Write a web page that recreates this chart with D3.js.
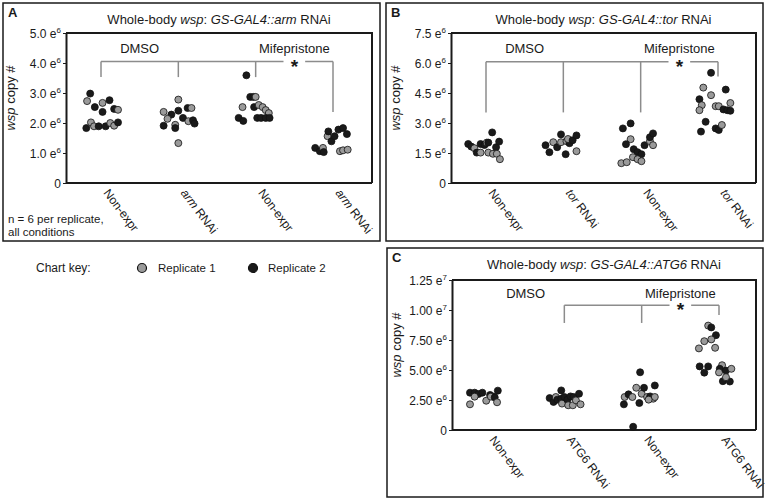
<!DOCTYPE html>
<html>
<head>
<meta charset="utf-8">
<script src="https://cdn.jsdelivr.net/npm/d3@7"></script>
<style>
body { margin: 0; background: #fff; }
svg { font-family: "Liberation Sans", Arial, Helvetica, sans-serif; }
</style>
</head>
<body>
<div id="chart"></div>
<script>
// categories ("_x_" = italic)
var catsA = ["Non-expr", "_arm_ RNAi", "Non-expr", "_arm_ RNAi"];
var catsB = ["Non-expr", "_tor_ RNAi", "Non-expr", "_tor_ RNAi"];
var catsC = ["Non-expr", "ATG6 RNAi", "Non-expr", "ATG6 RNAi"];
var groups = ["DMSO", "Mifepristone"];

// y ticks (values in e6), labels "mantissa e^exp"
var ticksA = [0, 1, 2, 3, 4, 5];
var tickTextA = ["0", "1.0 e^6", "2.0 e^6", "3.0 e^6", "4.0 e^6", "5.0 e^6"];
var ticksB = [0, 1.5, 3, 4.5, 6, 7.5];
var tickTextB = ["0", "1.5 e^6", "3.0 e^6", "4.5 e^6", "6.0 e^6", "7.5 e^6"];
var ticksC = [0, 2.5, 5, 7.5, 10, 12.5];
var tickTextC = ["0", "2.50 e^6", "5.00 e^6", "7.50 e^6", "1.00 e^7", "1.25 e^7"];

// points: [category, replicate, jitter (fraction of step), wsp copies (e6)]
var pointsA = [
  [0,2,-0.14,2.98],[0,1,-0.18,2.73],[0,2,-0.08,2.53],[0,1,0.02,2.67],[0,2,0.11,2.76],[0,2,0.02,2.37],
  [0,2,0.17,2.47],[0,1,0.22,2.44],[0,2,-0.19,1.83],[0,1,-0.13,2.02],[0,1,-0.09,1.89],[0,2,-0.03,1.89],
  [0,2,0.06,1.89],[0,1,0.12,2.00],[0,1,0.17,1.91],[0,2,0.22,2.02],
  [1,1,0.00,2.78],[1,1,-0.19,2.37],[1,2,-0.09,2.28],[1,2,0.00,2.41],[1,1,-0.14,2.14],[1,2,-0.19,1.91],
  [1,1,-0.04,1.94],[1,2,-0.04,1.83],[1,2,0.06,2.17],[1,2,0.12,2.50],[1,1,0.17,2.50],[1,1,0.13,2.06],
  [1,2,0.19,2.09],[1,2,0.21,1.98],[1,1,0.00,1.33],
  [2,2,-0.12,3.59],[2,2,-0.07,2.87],[2,2,-0.03,2.87],[2,1,0.00,2.87],[2,1,-0.17,2.53],[2,2,-0.02,2.53],
  [2,1,0.04,2.60],[2,1,0.09,2.53],[2,1,0.13,2.43],[2,1,0.17,2.33],[2,2,-0.22,2.17],[2,2,-0.16,2.07],
  [2,2,0.02,2.17],[2,2,0.07,2.17],[2,2,0.13,2.17],[2,2,0.18,2.17],
  [3,2,-0.23,1.17],[3,2,-0.17,1.06],[3,1,-0.13,1.17],[3,2,-0.12,1.03],[3,1,-0.07,1.56],[3,2,-0.06,1.72],
  [3,2,-0.02,1.39],[3,2,0.02,1.56],[3,2,0.07,1.78],[3,2,0.13,1.83],[3,2,0.18,1.63],[3,1,0.09,1.06],
  [3,1,0.13,1.09],[3,1,0.19,1.11]
];
var pointsB = [
  [0,2,-0.23,1.95],[0,2,-0.19,1.82],[0,1,-0.15,1.74],[0,2,-0.12,1.52],[0,1,-0.07,1.52],[0,2,-0.07,1.95],
  [0,2,-0.02,1.90],[0,1,0.01,2.02],[0,2,0.03,2.02],[0,2,0.08,2.53],[0,1,0.03,1.52],[0,1,0.09,1.46],
  [0,2,0.13,1.79],[0,2,0.17,2.07],[0,1,0.14,1.46],[0,1,0.18,1.19],
  [1,2,-0.23,1.89],[1,2,-0.18,1.54],[1,1,-0.13,2.04],[1,2,-0.08,1.79],[1,2,-0.03,2.43],[1,1,-0.03,2.04],
  [1,1,0.04,2.09],[1,2,0.08,1.99],[1,1,0.06,2.20],[1,2,0.12,2.14],[1,2,0.17,2.38],[1,2,0.03,1.44],
  [1,1,0.17,1.59],
  [2,2,-0.23,2.73],[2,2,-0.13,2.98],[2,1,-0.13,2.19],[2,2,-0.19,1.94],[2,2,-0.09,1.69],[2,2,-0.04,1.54],
  [2,2,0.01,1.44],[2,1,-0.10,1.29],[2,1,-0.04,1.19],[2,1,0.01,1.09],[2,1,-0.25,0.99],[2,1,-0.18,1.04],
  [2,2,0.05,1.89],[2,1,0.12,2.09],[2,2,0.12,2.29],[2,2,0.16,2.48],[2,1,0.16,1.89],
  [3,2,-0.09,5.51],[3,1,-0.19,4.77],[3,1,-0.09,4.39],[3,2,-0.24,4.19],[3,1,-0.21,3.89],[3,1,-0.24,3.64],
  [3,1,-0.03,3.84],[3,1,0.01,3.84],[3,2,0.10,4.67],[3,2,0.07,3.68],[3,2,0.12,3.64],[3,1,0.16,4.00],
  [3,2,0.16,3.61],[3,2,-0.16,3.06],[3,2,-0.22,2.57],[3,2,-0.03,2.73],[3,2,0.01,2.65],[3,1,0.05,2.90]
];
var pointsC = [
  [0,2,-0.22,3.11],[0,2,-0.16,3.11],[0,2,-0.11,3.00],[0,2,-0.06,3.11],[0,1,-0.22,2.14],[0,1,-0.16,2.78],
  [0,2,0.04,2.92],[0,2,0.08,2.78],[0,1,-0.01,2.44],[0,1,0.05,2.78],[0,2,0.10,2.72],[0,1,0.13,2.31],
  [0,2,0.14,3.28],
  [1,2,-0.19,2.66],[1,2,-0.14,2.34],[1,1,-0.11,2.75],[1,2,-0.09,2.53],[1,2,-0.04,2.61],[1,1,-0.03,2.20],
  [1,2,0.00,2.75],[1,2,0.04,2.53],[1,1,0.05,2.06],[1,2,0.08,2.80],[1,2,-0.04,3.30],[1,2,0.12,2.75],
  [1,1,0.11,2.06],[1,1,0.15,2.47],[1,2,0.19,3.02],[1,1,0.21,2.14],
  [2,2,-0.23,2.14],[2,1,-0.22,2.75],[2,2,-0.17,2.97],[2,1,-0.12,2.75],[2,2,-0.02,4.81],[2,1,-0.07,3.52],
  [2,2,-0.03,2.25],[2,1,0.00,3.02],[2,2,0.03,3.52],[2,1,0.07,2.75],[2,2,0.11,2.80],[2,2,0.17,3.71],
  [2,1,0.15,2.61],[2,1,0.17,2.75],[2,2,-0.11,0.27],[2,1,0.09,2.53],
  [3,1,-0.14,8.70],[3,2,-0.10,8.55],[3,2,-0.04,7.90],[3,1,-0.10,7.55],[3,1,-0.19,7.40],[3,1,-0.26,6.80],
  [3,1,-0.05,6.85],[3,2,-0.25,5.30],[3,2,-0.14,5.30],[3,2,-0.19,4.78],[3,1,0.04,5.40],[3,2,0.01,5.10],
  [3,1,0.00,4.80],[3,2,0.09,4.95],[3,1,0.16,5.10],[3,2,0.05,4.07],[3,2,0.14,4.04],[3,1,0.09,4.40]
];

var W = 767, H = 500;
var svg = d3.select("#chart").append("svg").attr("width", W).attr("height", H);

var ink = "#1a1a1a", grey = "#9a9a9a", bracketCol = "#8c8c8c";

// "_x_" marks italic runs
function rich(sel, str) {
  str.split("_").forEach(function (s, i) {
    if (!s) return;
    sel.append("tspan").attr("font-style", i % 2 ? "italic" : null).text(s);
  });
}

function drawPanel(p) {
  var g = svg.append("g");
  g.append("rect")
    .attr("x", p.box[0]).attr("y", p.box[1]).attr("width", p.box[2]).attr("height", p.box[3])
    .attr("fill", "none").attr("stroke", ink).attr("stroke-width", 1.5);
  g.append("text").attr("x", p.box[0] + 5).attr("y", p.box[1] + 14)
    .attr("font-size", 13).attr("font-weight", "bold").attr("fill", ink).text(p.letter);

  var w = p.plot[2] - p.plot[0], h = p.plot[3] - p.plot[1];
  var chart = g.append("g").attr("transform", `translate(${p.plot[0]}, ${p.plot[1]})`);

  var x = d3.scalePoint().domain(d3.range(p.cats.length)).range([35, 267]);
  var y = d3.scaleLinear().domain([0, p.ticks[p.ticks.length - 1]]).range([h, 0]);
  var jit = d3.scaleLinear().domain([-1, 1]).range([-x.step(), x.step()]);
  var xAt = function (c) { return x(0) + c * x.step(); };

  // title
  var t = g.append("text").attr("x", p.plot[0] + w / 2).attr("y", p.box[1] + 21)
    .attr("text-anchor", "middle").attr("font-size", 13).attr("fill", ink);
  rich(t, p.title);

  // frame top/right
  chart.append("path").attr("d", `M0,0H${w}V${h}`).attr("fill", "none")
    .attr("stroke", ink).attr("stroke-width", 2);

  // y axis
  var yAxis = chart.append("g").attr("class", "yAxis")
    .call(d3.axisLeft(y).tickValues(p.ticks).tickSize(3).tickSizeOuter(0).tickPadding(2)
      .tickFormat(function (d, i) { return ""; }));
  yAxis.select(".domain").attr("stroke", ink).attr("stroke-width", 2);
  yAxis.selectAll(".tick line").attr("stroke", ink).attr("stroke-width", 1);
  yAxis.selectAll(".tick text").each(function (d, i) {
    var parts = p.tickText[i].split("^");
    var el = d3.select(this).attr("font-size", 12).attr("fill", ink)
      .attr("font-family", null).attr("dy", "0.35em");
    el.append("tspan").text(parts[0]);
    if (parts[1]) el.append("tspan").attr("font-size", 8).attr("dy", "-0.55em").text(parts[1]);
  });
  yAxis.attr("font-family", null);

  // x axis (line only)
  var xAxis = chart.append("g").attr("class", "xAxis")
    .attr("transform", `translate(0, ${h})`)
    .call(d3.axisBottom(x).tickSize(0).tickFormat(""));
  xAxis.select(".domain").attr("d", `M0,0H${w}`).attr("stroke", ink).attr("stroke-width", 2);
  xAxis.selectAll(".tick").remove();

  p.cats.forEach(function (c, i) {
    var lab = chart.append("text")
      .attr("transform", `translate(${x(i) + 2}, ${h + 10}) rotate(53)`)
      .attr("font-size", 12).attr("fill", ink);
    rich(lab, c);
  });

  // y label
  var yl = chart.append("text")
    .attr("transform", `translate(${-51}, ${h / 2 - 10}) rotate(-90)`)
    .attr("text-anchor", "middle").attr("font-size", 13).attr("fill", ink);
  rich(yl, "_wsp_ copy #");

  // group labels
  chart.append("text").attr("x", xAt(0.5)).attr("y", y(p.groupY))
    .attr("text-anchor", "middle").attr("font-size", 13).attr("fill", ink).text(groups[0]);
  chart.append("text").attr("x", xAt(2.5)).attr("y", y(p.groupY))
    .attr("text-anchor", "middle").attr("font-size", 13).attr("fill", ink).text(groups[1]);

  // significance bracket
  var b = p.bracket, by = y(b.level);
  var br = chart.append("g").attr("fill", "none").attr("stroke", bracketCol).attr("stroke-width", 1.5);
  br.append("path").attr("d", `M${x(b.from)},${by}H${xAt(2.36)}M${xAt(2.64)},${by}H${x(b.to)}`);
  b.legs.forEach(function (v, k) {
    var xi = x(b.from + k);
    br.append("path").attr("d", `M${xi},${by}V${y(v)}`);
  });
  chart.append("text").attr("x", xAt(2.5)).attr("y", by + 11)
    .attr("text-anchor", "middle").attr("font-size", 19).attr("font-weight", "bold")
    .attr("fill", ink).text("*");

  // points
  chart.append("g").selectAll("circle")
    .data(p.points)
    .enter()
    .append("circle")
    .attr("cx", function (d) { return x(d[0]) + jit(d[2]); })
    .attr("cy", function (d) { return y(d[3]); })
    .attr("r", 3.5)
    .attr("fill", function (d) { return d[1] === 1 ? grey : ink; })
    .attr("stroke", "#111")
    .attr("stroke-width", 0.8);
}

drawPanel({
  letter: "A", box: [3, 3, 377, 238], plot: [66, 33, 372, 183],
  title: "Whole-body _wsp_: _GS-GAL4::arm_ RNAi",
  cats: catsA, ticks: ticksA, tickText: tickTextA, points: pointsA,
  groupY: 4.35, bracket: { from: 0, to: 3, level: 4.05, legs: [3.53, 3.53, 3.53, 2.37] }
});
drawPanel({
  letter: "B", box: [386, 3, 377, 238], plot: [451, 33, 756, 183],
  title: "Whole-body _wsp_: _GS-GAL4::tor_ RNAi",
  cats: catsB, ticks: ticksB, tickText: tickTextB, points: pointsB,
  groupY: 6.5, bracket: { from: 0, to: 3, level: 6.06, legs: [3.53, 3.53, 3.53, 5.32] }
});
drawPanel({
  letter: "C", box: [387, 248, 376, 249], plot: [452, 280, 756, 430],
  title: "Whole-body _wsp_: _GS-GAL4::ATG6_ RNAi",
  cats: catsC, ticks: ticksC, tickText: tickTextC, points: pointsC,
  groupY: 11.0, bracket: { from: 1, to: 3, level: 10.4, legs: [8.92, 8.92, 9.58] }
});

// n note
svg.append("text").attr("x", 8).attr("y", 223).attr("font-size", 11.5).attr("fill", ink)
  .text("n = 6 per replicate,");
svg.append("text").attr("x", 8).attr("y", 236).attr("font-size", 11.5).attr("fill", ink)
  .text("all conditions");

// chart key
var key = svg.append("g").attr("font-size", 12).attr("fill", ink);
key.append("text").attr("x", 36).attr("y", 272).text("Chart key:");
key.append("circle").attr("cx", 142).attr("cy", 268).attr("r", 4.5).attr("fill", grey).attr("stroke", "#111").attr("stroke-width", 1.2);
key.append("text").attr("x", 158).attr("y", 272).attr("font-size", 11.5).text("Replicate 1");
key.append("circle").attr("cx", 253).attr("cy", 268).attr("r", 4.5).attr("fill", ink).attr("stroke", "#111").attr("stroke-width", 1.2);
key.append("text").attr("x", 268).attr("y", 272).attr("font-size", 11.5).text("Replicate 2");
</script>
</body>
</html>
